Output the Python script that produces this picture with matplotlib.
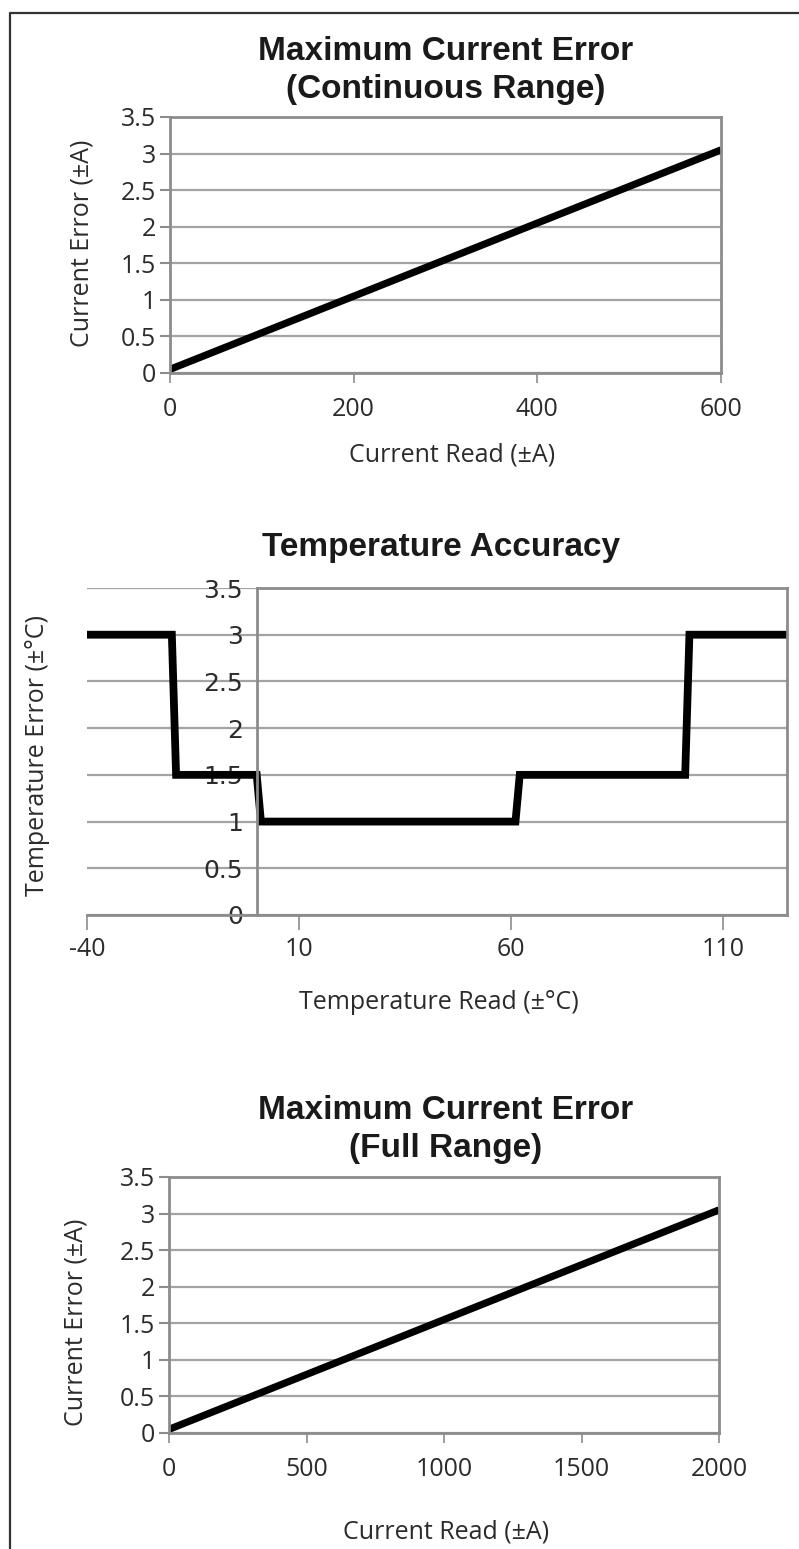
import matplotlib
matplotlib.use("Agg")
import matplotlib.pyplot as plt
from matplotlib.lines import Line2D

# data
cont_x = [0, 600]
cont_err = [0.05, 3.05]

temp_x = [-40, -20, -19, 0, 1, 61, 62, 101, 102, 125]
temp_err = [3.0, 3.0, 1.5, 1.5, 1.0, 1.0, 1.5, 1.5, 3.0, 3.0]

full_x = [0, 2000]
full_err = [0.05, 3.05]

y_ticks = [0, 0.5, 1, 1.5, 2, 2.5, 3, 3.5]
y_labels = ['0', '0.5', '1', '1.5', '2', '2.5', '3', '3.5']

W, H = 799, 1549
fig = plt.figure(figsize=(W / 100, H / 100), dpi=100)

TICK_FONT = 'Open Sans'
TITLE_FONT = 'Liberation Sans'
FS = 18
grid_c = '#a3a3a3'
frame_c = '#8c8c8c'
text_c = '#2b2b2b'


def box(left, top, right, bottom):
    return [left / W, 1 - bottom / H, (right - left) / W, (bottom - top) / H]


def style(ax, xticks, xpad):
    ax.set_yticks(y_ticks)
    ax.set_yticklabels(y_labels)
    ax.set_ylim(0, 3.5)
    ax.set_xticks(xticks)
    ax.set_xticklabels([str(v) for v in xticks])
    ax.grid(axis='y', color=grid_c, lw=1.6)
    ax.set_axisbelow(True)
    for s in ax.spines.values():
        s.set_color(frame_c)
        s.set_linewidth(2)
    ax.tick_params(axis='y', length=7, width=1.5, color=frame_c, pad=3,
                   labelsize=FS, labelcolor=text_c)
    ax.tick_params(axis='x', length=7, width=1.2, color=frame_c, pad=xpad,
                   labelsize=FS, labelcolor=text_c)
    for lab in ax.get_xticklabels() + ax.get_yticklabels():
        lab.set_fontfamily(TICK_FONT)


def title(txt, x, y):
    fig.text(x / W, 1 - y / H, txt, ha='center', va='baseline', fontsize=24,
             fontweight='bold', family=TITLE_FONT, color='#1a1a1a', linespacing=1.3)


def label(txt, x, y, rot=0):
    fig.text(x / W, 1 - y / H, txt, ha='center', va='center', rotation=rot,
             fontsize=FS, family=TICK_FONT, color=text_c)


# chart 1
ax1 = fig.add_axes(box(170, 117, 721, 373))
ax1.plot(cont_x, cont_err, color='black', lw=5.2, solid_capstyle='butt')
ax1.set_xlim(0, 600)
style(ax1, [0, 200, 400, 600], 10)
title('Maximum Current Error\n(Continuous Range)', 446, 98)
label('Current Read (±A)', 452, 455)
label('Current Error (±A)', 82, 243, 90)

# chart 2
ax2 = fig.add_axes(box(87, 588, 787, 915))
ax2.plot(temp_x, temp_err, color='black', lw=5.6, solid_joinstyle='miter')
ax2.set_xlim(-40, 125)
style(ax2, [-40, 10, 60, 110], 5)
ax2.spines['left'].set_position(('data', 0))
ax2.spines['top'].set_bounds(0, 125)
ax2.tick_params(axis='x', length=11)
ax2.tick_params(axis='y', length=0, pad=10)
title('Temperature Accuracy', 441, 556)
label('Temperature Read (±°C)', 439, 1003)
label('Temperature Error (±°C)', 38, 756, 90)

# chart 3
ax3 = fig.add_axes(box(169, 1177, 719, 1433))
ax3.plot(full_x, full_err, color='black', lw=5.2, solid_capstyle='butt')
ax3.set_xlim(0, 2000)
style(ax3, [0, 500, 1000, 1500, 2000], 10)
title('Maximum Current Error\n(Full Range)', 446, 1157)
label('Current Read (±A)', 446, 1532)
label('Current Error (±A)', 76, 1322, 90)

# outer frame (left and top edges)
fig.add_artist(Line2D([10 / W, 10 / W, 1.02], [-0.02, 1 - 13 / H, 1 - 13 / H],
                      transform=fig.transFigure, color='#333333', lw=1.6))

fig.savefig('out.png', dpi=100, facecolor='white')
